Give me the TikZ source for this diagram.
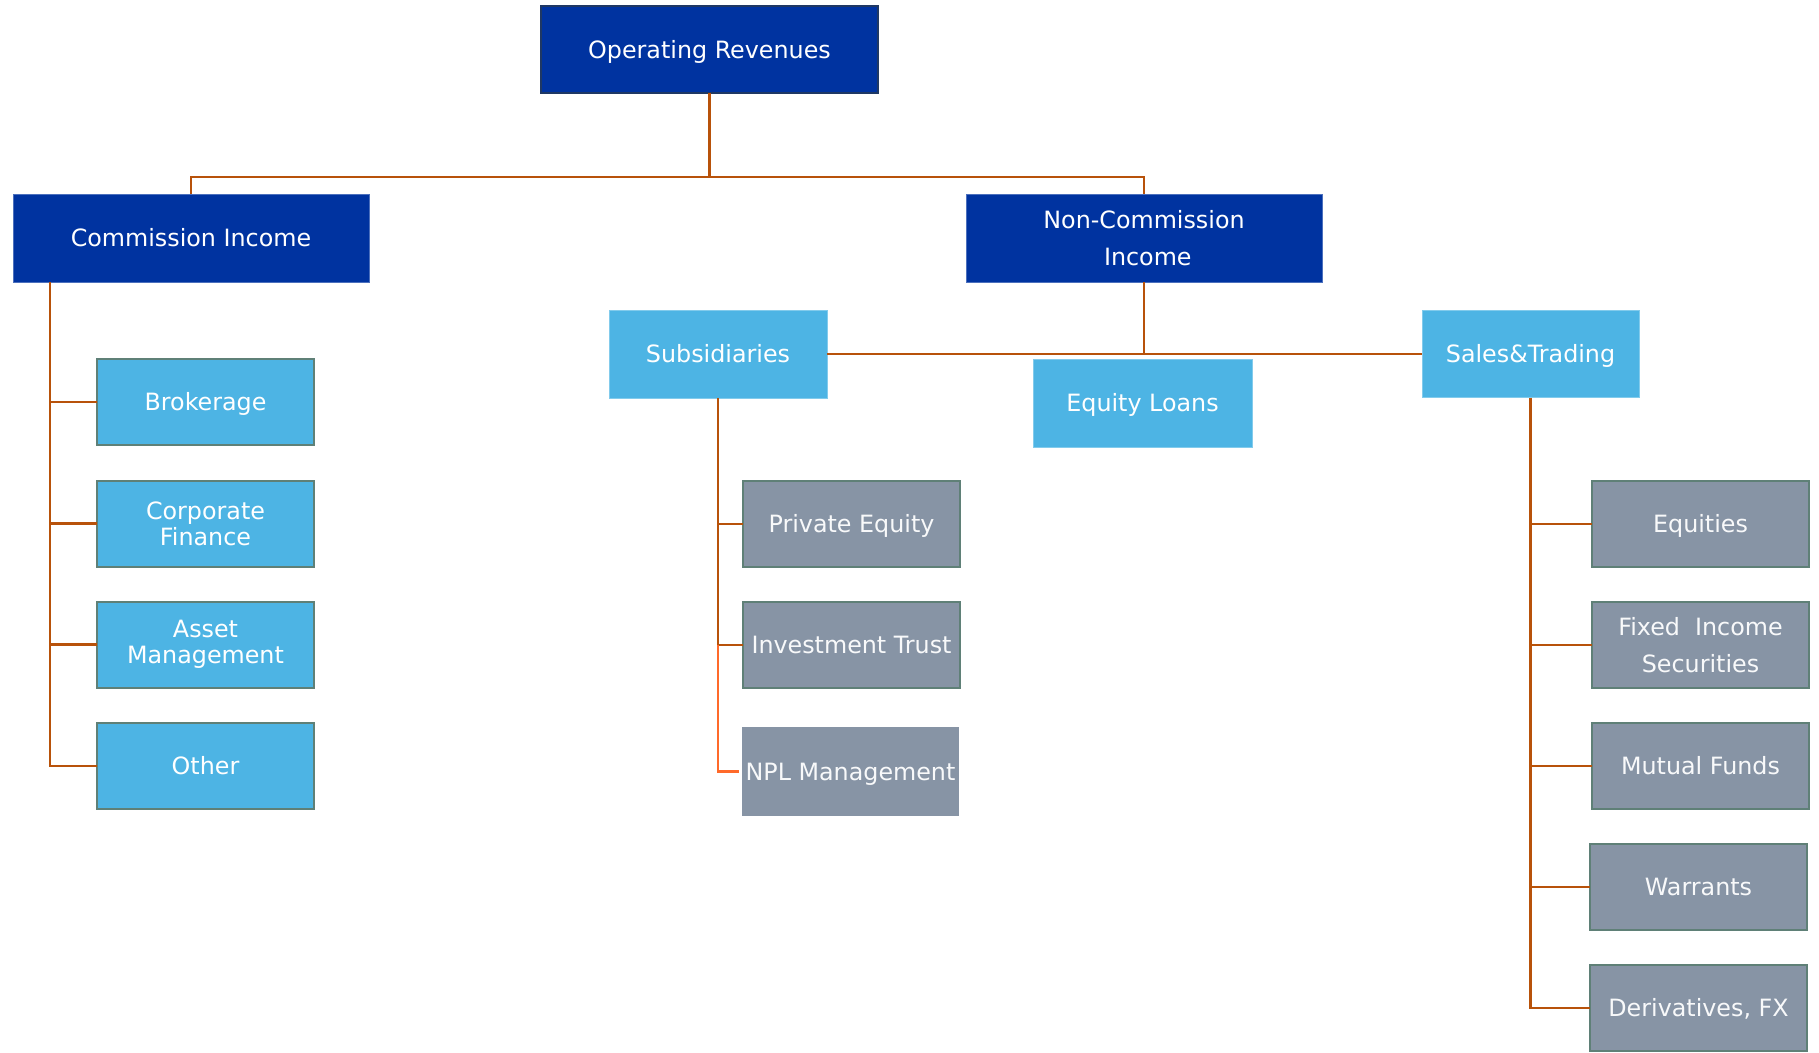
\documentclass[tikz,border=0pt]{standalone}
\usepackage{fontspec}
\setmainfont{DejaVu Sans}
\definecolor{dkblue}{HTML}{0033A0}
\definecolor{ltblue}{HTML}{4DB4E4}
\definecolor{gybox}{HTML}{8794A5}
\definecolor{bord}{HTML}{5F8077}
\definecolor{conn}{HTML}{B8520A}
\definecolor{conn2}{HTML}{FF6A2A}
\definecolor{navy}{HTML}{1F3864}
\begin{document}
\begin{tikzpicture}[x=1pt,y=-1pt,
  box/.style={rectangle,inner sep=0pt,outer sep=0pt,align=center,text=white,
    font=\fontsize{23.8}{26}\selectfont,text height=17.4pt,text depth=0pt},
  multi/.style={text height={},text depth={}},
  loose/.style={multi,font=\fontsize{23.8}{37}\selectfont},
  dk/.style={box,fill=dkblue,draw=dkblue!70!white,line width=0.8pt,minimum width=356pt,minimum height=88pt},
  lb/.style={box,fill=ltblue,draw=ltblue!70!white,line width=0.8pt,minimum width=218pt,minimum height=88pt},
  lbb/.style={box,fill=ltblue,draw=bord,line width=2pt,minimum width=217pt,minimum height=86pt},
  gb/.style={box,fill=gybox,draw=bord,line width=2pt,minimum width=217pt,minimum height=86pt,text=white!94!gybox},
  cn/.style={draw=conn,line width=2.4pt},
  cn2/.style={draw=conn2,line width=2.4pt}]
\useasboundingbox (0,0) rectangle (1819,1052);
\fill[white] (0,0) rectangle (1819,1052);

% top level
\node[dk,draw=navy,line width=1.2pt,minimum width=337pt,minimum height=87pt] (op) at (709.5,49.5) {Operating Revenues};
\node[dk] (comm) at (191,238) {Commission Income};
\node[dk,loose] (noncomm) at (1144,238) {Non-Commission\\\ Income};

% second level
\node[lb] (subs) at (718,354) {Subsidiaries};
\node[lb,minimum width=219pt] (eql) at (1142.5,403) {Equity Loans};
\node[lb,minimum width=217pt,minimum height=87pt] (sales) at (1530.5,354) {Sales\&Trading};

% left column
\node[lbb] (brok) at (205.5,402) {Brokerage};
\node[lbb,multi] (corp) at (205.5,523.5) {Corporate\\Finance};
\node[lbb,multi] (asset) at (205.5,644.5) {Asset\\Management};
\node[lbb] (other) at (205.5,766) {Other};

% middle column
\node[gb] (pe) at (851.5,524) {Private Equity};
\node[gb] (it) at (851.5,645) {Investment Trust};
\node[gb,draw=none,minimum width=217pt,minimum height=89pt] (npl) at (850.5,771.5) {NPL Management};

% right column
\node[gb] (eq) at (1700.5,524) {Equities};
\node[gb,loose] (fi) at (1700.5,645) {Fixed\ \ Income\\Securities};
\node[gb] (mf) at (1700.5,766) {Mutual Funds};
\node[gb] (war) at (1698.5,887) {Warrants};
\node[gb] (der) at (1698.5,1008) {Derivatives, FX};

% connectors top
\coordinate (bar) at (709.5,177);
\draw[cn] (op.south) -- (bar);
\draw[cn] (comm.north) |- (bar) -| (noncomm.north);

% commission column
\coordinate (cl) at (50,282);
\draw[cn] (cl) |- (other.west);
\draw[cn] (cl |- brok.west) -- (brok.west);
\draw[cn] (cl |- corp.west) -- (corp.west);
\draw[cn] (cl |- asset.west) -- (asset.west);

% non-commission
\coordinate (nb) at (1144,354);
\draw[cn] (noncomm.south) -- (nb);
\draw[cn] (subs.east) -- (sales.west);

% subsidiaries column
\draw[cn] (subs.south) |- (it.west);
\draw[cn] (subs.south |- pe.west) -- (pe.west);
\coordinate (nplend) at ([xshift=-3pt]npl.west);
\draw[cn2] (subs.south |- it.west) |- (nplend);

% sales column
\draw[cn] (sales.south) |- (der.west);
\draw[cn] (sales.south |- eq.west) -- (eq.west);
\draw[cn] (sales.south |- fi.west) -- (fi.west);
\draw[cn] (sales.south |- mf.west) -- (mf.west);
\draw[cn] (sales.south |- war.west) -- (war.west);
\end{tikzpicture}
\end{document}
